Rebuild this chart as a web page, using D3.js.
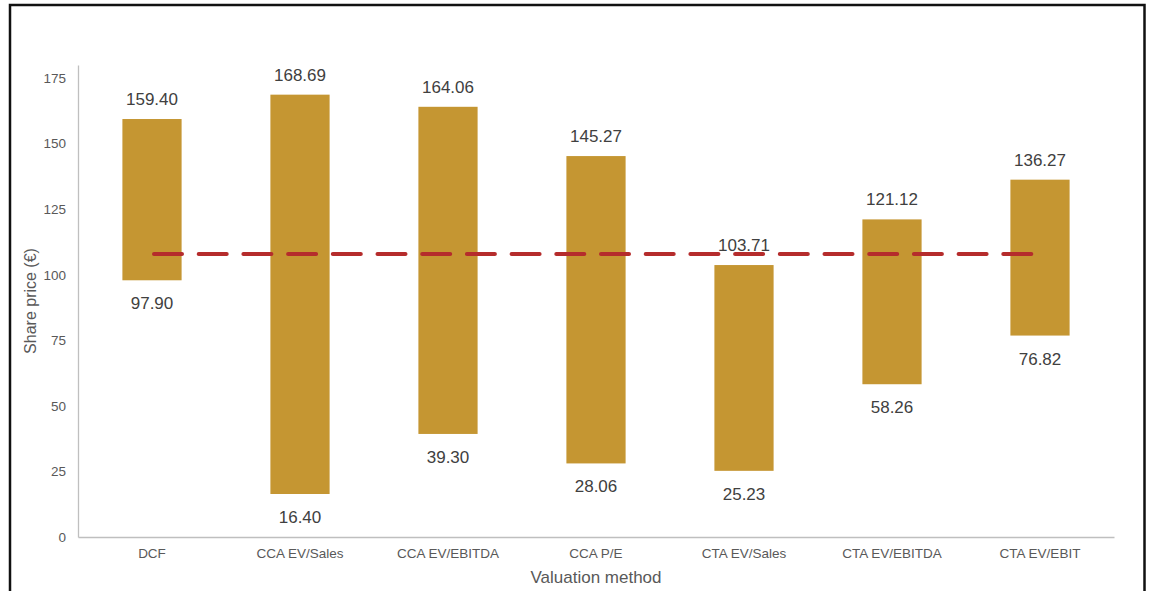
<!DOCTYPE html>
<html>
<head>
<meta charset="utf-8">
<script src="https://cdn.jsdelivr.net/npm/d3@7"></script>
<style>
    body { margin:0; background:#fff; }
    svg text { font-family:"Liberation Sans", Arial, sans-serif; }
</style>
</head>
<body>
<div id="chartCont"></div>
<script>
// valuation ranges (share price, €)
var methods = ['DCF','CCA EV/Sales','CCA EV/EBITDA','CCA P/E','CTA EV/Sales','CTA EV/EBITDA','CTA EV/EBIT'];
var lows  = [97.90, 16.40, 39.30, 28.06, 25.23, 58.26, 76.82];
var highs = [159.40, 168.69, 164.06, 145.27, 103.71, 121.12, 136.27];
var currentPrice = 107.9;
var yTicks = [0,25,50,75,100,125,150,175];

var W = 1153, H = 591;
var margin = {top:65, right:39, bottom:54, left:78};

var svg = d3.select('#chartCont').append('svg')
    .attr('width', W)
    .attr('height', H);

svg.append('rect')
    .attr('x',0).attr('y',0).attr('width',W).attr('height',H)
    .attr('fill','#fff');

// outer frame (bottom edge runs off the picture)
svg.append('rect')
    .attr('x',10).attr('y',5)
    .attr('width',1134.5).attr('height',600)
    .attr('fill','none')
    .attr('stroke','#111')
    .attr('stroke-width',2.5);

var x = d3.scaleBand()
    .domain(methods)
    .range([margin.left, W - margin.right])
    .paddingInner(0.6)
    .paddingOuter(0.3);

var y = d3.scaleLinear()
    .domain([0,180])
    .range([H - margin.bottom, margin.top]);

var axisCol = '#bfbfbf', tickCol = '#595959';

// y axis
var gy = svg.append('g')
    .attr('transform','translate(' + margin.left + ',0)')
    .call(d3.axisLeft(y).tickValues(yTicks).tickSize(0).tickPadding(12));
gy.select('.domain').attr('stroke',axisCol).attr('stroke-width',1.3);
gy.selectAll('text').attr('fill',tickCol).style('font-size','13.5px')
    .style('font-family','"Liberation Sans", Arial, sans-serif');

// x axis
var gx = svg.append('g')
    .attr('transform','translate(0,' + y(0) + ')')
    .call(d3.axisBottom(x).tickSize(0).tickPadding(11));
gx.select('.domain').attr('stroke',axisCol).attr('stroke-width',1.3);
gx.selectAll('text').attr('fill',tickCol).style('font-size','13.5px')
    .style('font-family','"Liberation Sans", Arial, sans-serif');

// axis titles
svg.append('text')
    .attr('transform','translate(36,' + y(90) + ') rotate(-90)')
    .attr('text-anchor','middle')
    .attr('fill',tickCol)
    .style('font-size','16px')
    .text('Share price (€)');

svg.append('text')
    .attr('x', (margin.left + W - margin.right) / 2)
    .attr('y', 583)
    .attr('text-anchor','middle')
    .attr('fill',tickCol)
    .style('font-size','17px')
    .text('Valuation method');

var data = methods.map(function (m, i) {
    return {name:m, low:lows[i], high:highs[i]};
});

// range bars
svg.append('g').selectAll('rect')
    .data(data)
    .enter()
    .append('rect')
    .attr('x', function (d) { return x(d.name); })
    .attr('width', x.bandwidth())
    .attr('y', function (d) { return y(d.high); })
    .attr('height', function (d) { return y(d.low) - y(d.high); })
    .attr('fill','#c59632');

// current share price, dashed
svg.append('line')
    .attr('x1', x(methods[0]) + x.bandwidth()/2 + 2)
    .attr('x2', x(methods[methods.length-1]) + x.bandwidth()/2)
    .attr('y1', y(currentPrice))
    .attr('y2', y(currentPrice))
    .attr('stroke','#b52c2c')
    .attr('stroke-width',4)
    .attr('stroke-linecap','round')
    .attr('stroke-dasharray','28,16.7');

var labels = svg.append('g');
labels.selectAll('text.hi')
    .data(data)
    .enter()
    .append('text')
    .attr('class','hi')
    .attr('x', function (d) { return x(d.name) + x.bandwidth()/2; })
    .attr('y', function (d) { return y(d.high) - 14; })
    .attr('text-anchor','middle')
    .attr('fill','#404040')
    .style('font-size','17px')
    .text(function (d) { return d.high.toFixed(2); });

labels.selectAll('text.lo')
    .data(data)
    .enter()
    .append('text')
    .attr('class','lo')
    .attr('x', function (d) { return x(d.name) + x.bandwidth()/2; })
    .attr('y', function (d) { return y(d.low) + 29; })
    .attr('text-anchor','middle')
    .attr('fill','#404040')
    .style('font-size','17px')
    .text(function (d) { return d.low.toFixed(2); });
</script>
</body>
</html>
